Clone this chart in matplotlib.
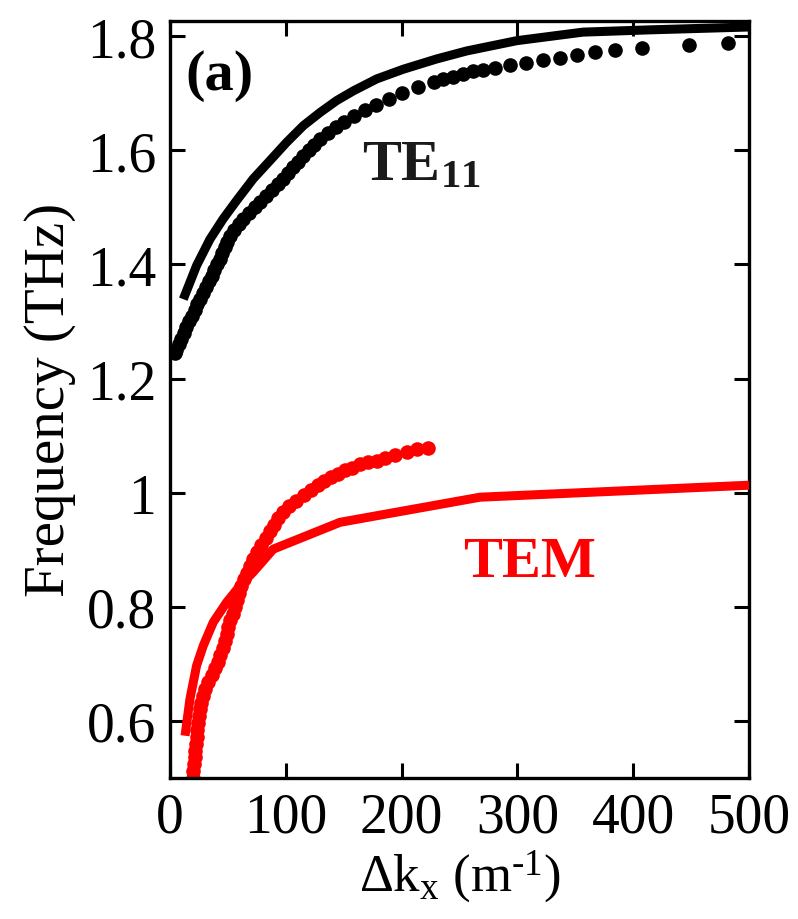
import matplotlib
matplotlib.use("Agg")
import matplotlib.pyplot as plt
from matplotlib.ticker import FixedLocator, FixedFormatter

plt.rcParams['font.family'] = ['Liberation Serif', 'DejaVu Serif']
plt.rcParams['mathtext.fontset'] = 'custom'
plt.rcParams['mathtext.rm'] = 'Liberation Serif'
plt.rcParams['mathtext.it'] = 'Liberation Serif:italic'
plt.rcParams['mathtext.bf'] = 'Liberation Serif:bold'

# TE11 mode: simulated dispersion (line) and measured points
te_sim_k = [11.5, 23, 34.5, 46, 57.6, 71.9, 86.4, 100.8, 115.1, 129.5, 143.9, 158.3,
            178.5, 201.5, 230.3, 256.2, 299.4, 356.6, 414.5, 500]
te_sim_f = [1.339, 1.398, 1.444, 1.480, 1.512, 1.550, 1.582, 1.614, 1.643, 1.666, 1.687,
            1.704, 1.725, 1.742, 1.760, 1.774, 1.792, 1.807, 1.811, 1.816]

te_meas_k = [4, 5.3, 7.6, 9.8, 12, 14.2, 16.4, 18.8, 21.2, 23.7, 26.1, 28.6, 31, 33.4,
             35.9, 38.3, 40.7, 42.9, 45.1, 47.3, 49.6, 51.8, 55.6, 59.5, 63.3, 68.2,
             73.2, 78.1, 83, 88, 92.9, 97.8, 102.1, 106.5, 110.8, 115.1, 119.9, 124.7,
             129.5, 136.5, 143.4, 150.5, 159.3, 168.1, 178.2, 189.3, 200.4, 213.8,
             227.6, 236, 244.7, 253.3, 261.9, 270.6, 280.7, 293.6, 307.4, 322.4, 336.8,
             351.2, 367, 384.3, 407.3, 448.4, 481.6]
te_meas_f = [1.245, 1.25, 1.26, 1.27, 1.28, 1.29, 1.30, 1.31, 1.32, 1.33, 1.34, 1.35,
             1.36, 1.37, 1.38, 1.39, 1.40, 1.41, 1.42, 1.43, 1.44, 1.45, 1.46, 1.47,
             1.48, 1.49, 1.50, 1.51, 1.52, 1.53, 1.54, 1.55, 1.56, 1.57, 1.58, 1.59,
             1.60, 1.61, 1.62, 1.63, 1.64, 1.65, 1.66, 1.67, 1.68, 1.69, 1.70, 1.71,
             1.72, 1.725, 1.728, 1.734, 1.738, 1.741, 1.744, 1.749, 1.753, 1.759,
             1.762, 1.767, 1.772, 1.776, 1.779, 1.785, 1.788]

# TEM mode: simulated dispersion (line) and measured points
tem_sim_k = [13, 17.3, 23, 28.8, 37.4, 49, 60.5, 72, 89.2, 146.8, 267.7, 500]
tem_sim_f = [0.574, 0.639, 0.697, 0.732, 0.773, 0.808, 0.837, 0.861, 0.901, 0.948,
             0.992, 1.013]

tem_meas_k = [19.5, 20, 20.8, 21.5, 22, 22.5, 23, 23.4, 24, 24.8, 25.8, 27, 28.3, 30,
              33, 36.5, 39, 41.5, 43.5, 45.5, 47.5, 49, 50.5, 52, 54, 56, 57.5, 59.5,
              61.5, 64, 66.5, 69, 72, 75, 79, 82.5, 86, 89.5, 93, 97.5, 103, 109, 116,
              122, 128, 133, 139, 145, 151, 157, 164, 171, 179, 186, 194, 205, 213, 223]
tem_meas_f = [0.500, 0.512, 0.524, 0.536, 0.548, 0.560, 0.572, 0.584, 0.596, 0.608,
              0.620, 0.632, 0.644, 0.656, 0.668, 0.680, 0.692, 0.704, 0.716, 0.728,
              0.740, 0.752, 0.764, 0.776, 0.788, 0.800, 0.812, 0.824, 0.836, 0.848,
              0.860, 0.872, 0.884, 0.896, 0.908, 0.920, 0.932, 0.944, 0.956, 0.966,
              0.976, 0.986, 0.996, 1.005, 1.013, 1.020, 1.027, 1.033, 1.039, 1.044,
              1.050, 1.053, 1.056, 1.060, 1.066, 1.071, 1.076, 1.078]

x_ticks = [0, 100, 200, 300, 400, 500]
y_ticks = [0.6, 0.8, 1.0, 1.2, 1.4, 1.6, 1.8]
y_tick_labels = ['0.6', '0.8', '1', '1.2', '1.4', '1.6', '1.8']

RED = '#ff0000'

fig = plt.figure(figsize=(7.98, 9.2), dpi=100)
ax = fig.add_axes([0.213, 0.1533, 0.7256, 0.8231])

ax.plot(te_meas_k, te_meas_f, 'o', color='black', ms=10.5, mec='none', zorder=2)
ax.plot(te_sim_k, te_sim_f, '-', color='black', lw=6.5, solid_capstyle='butt',
        solid_joinstyle='round', zorder=3)
ax.plot(tem_meas_k, tem_meas_f, 'o', color=RED, ms=10.5, mec='none', zorder=2)
ax.plot(tem_sim_k, tem_sim_f, '-', color=RED, lw=6.5, solid_capstyle='butt',
        solid_joinstyle='round', zorder=3)

ax.set_xlim(0, 500)
ax.set_ylim(0.5, 1.827)

ax.xaxis.set_major_locator(FixedLocator(x_ticks))
ax.yaxis.set_major_locator(FixedLocator(y_ticks))
ax.yaxis.set_major_formatter(FixedFormatter(y_tick_labels))
ax.tick_params(direction='in', length=11, width=2.2, labelsize=40,
               top=True, right=True, pad=10)
for sp in ax.spines.values():
    sp.set_linewidth(2.4)

ax.set_xlabel('\u0394k$_{\\mathrm{x}}$ (m$^{\\mathrm{\u20101}}$)', fontsize=38, labelpad=2)
ax.set_ylabel('Frequency (THz)', fontsize=41, labelpad=8)

ax.text(13, 1.707, '(a)', fontsize=42, fontweight='bold')
ax.text(166, 1.55, r'$\mathbf{TE}_{\mathbf{11}}$', fontsize=42, color='#1a1a1a')
ax.text(253, 0.854, 'TEM', fontsize=42, fontweight='bold', color=RED)

fig.savefig('out.png', dpi=100)
